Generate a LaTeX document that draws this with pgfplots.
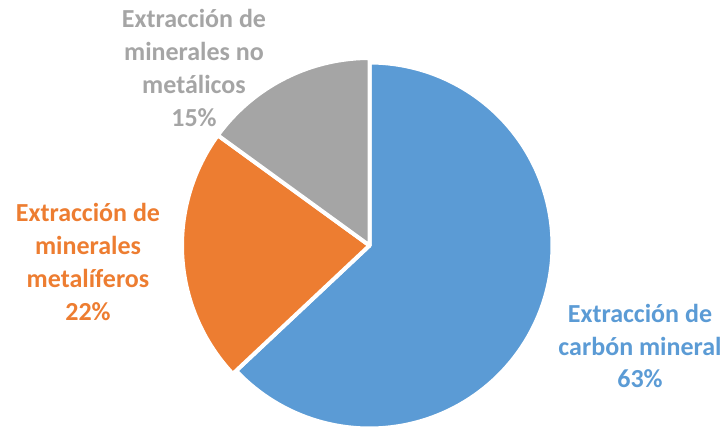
\documentclass[border=0pt]{standalone}
\usepackage{pgfplots}
\pgfplotsset{compat=1.18}
\usepackage{fontspec}
\setmainfont{Carlito}
\definecolor{cBlue}{HTML}{5B9BD5}
\definecolor{cOrange}{HTML}{ED7D31}
\definecolor{cGray}{HTML}{A5A5A5}
% data (percent)
\def\vCarbon{63}
\def\vMetal{22}
\def\vNoMetal{15}
\def\cx{369.5}
\def\cy{190.5}
\begin{document}
\begin{tikzpicture}
\pgfmathsetmacro\aA{90}
\pgfmathsetmacro\aB{90-3.6*\vCarbon}
\pgfmathsetmacro\aC{\aB-3.6*\vMetal}
\pgfmathsetmacro\aD{\aC-3.6*\vNoMetal}
\begin{axis}[
  width=728bp, height=436bp, scale only axis,
  xmin=0, xmax=728, ymin=0, ymax=436,
  hide axis, clip=false,
]
\path (axis cs:0,0) rectangle (axis cs:728,436);
% carbon mineral
\addplot[draw=white, line width=4bp, line join=round, fill=cBlue, domain=\aB:\aA, samples=120, variable=\t]
  ({\cx+183*cos(\t)}, {\cy+183*sin(\t)}) -- (axis cs:\cx,\cy) -- cycle;
% metaliferos
\addplot[draw=white, line width=4bp, line join=round, fill=cOrange, domain=\aC:\aB, samples=60, variable=\t]
  ({\cx+187.5*cos(\t)}, {\cy+187.5*sin(\t)}) -- (axis cs:\cx,\cy) -- cycle;
% no metalicos
\addplot[draw=white, line width=4bp, line join=round, fill=cGray, domain=\aD:\aC, samples=40, variable=\t]
  ({\cx+187.5*cos(\t)}, {\cy+187.5*sin(\t)}) -- (axis cs:\cx,\cy) -- cycle;
% labels
\node[align=center, text=cGray, font=\fontsize{26bp}{32.8bp}\selectfont\bfseries] at (axis cs:194,368)
  {Extracción de\\minerales no\\metálicos\\\vNoMetal\%};
\node[align=center, text=cOrange, font=\fontsize{26bp}{32.8bp}\selectfont\bfseries] at (axis cs:88,174)
  {Extracción de\\minerales\\metalíferos\\\vMetal\%};
\node[align=center, text=cBlue, font=\fontsize{26bp}{32.8bp}\selectfont\bfseries] at (axis cs:640,90)
  {Extracción de\\carbón mineral\\\vCarbon\%};
\end{axis}
\end{tikzpicture}
\end{document}
